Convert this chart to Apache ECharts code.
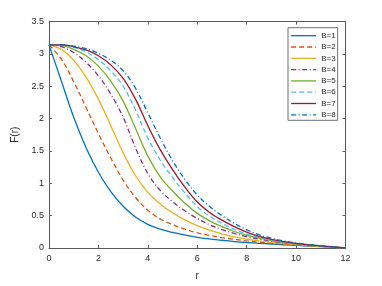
<!DOCTYPE html>
<html>
<head>
<meta charset="utf-8">
<script src="https://cdn.jsdelivr.net/npm/echarts@6/dist/echarts.min.js"></script>
<style>
html,body{margin:0;padding:0;background:#fff;}
#c{width:382px;height:286px;}
</style>
</head>
<body>
<div id="c"></div>
<script>
// radial coordinate samples
const rValues = [0,0.5,1,1.5,2,2.5,3,3.5,4,4.5,5,5.5,6,6.5,7,7.5,8,8.5,9,9.5,10,11,12];
// F(r) for each B
const B1 = [3.14,2.58,2.02,1.55,1.17,0.87,0.645,0.48,0.365,0.29,0.24,0.20,0.165,0.14,0.12,0.10,0.085,0.073,0.062,0.05,0.04,0.02,0];
const B2 = [3.14,2.92,2.57,2.17,1.77,1.39,1.05,0.78,0.585,0.45,0.36,0.29,0.235,0.195,0.16,0.135,0.11,0.092,0.075,0.06,0.047,0.023,0];
const B3 = [3.14,3.07,2.90,2.64,2.30,1.89,1.47,1.12,0.86,0.68,0.545,0.435,0.345,0.275,0.22,0.175,0.135,0.11,0.088,0.068,0.052,0.025,0];
const B4 = [3.14,3.11,3.02,2.87,2.66,2.38,2.02,1.55,1.15,0.89,0.715,0.575,0.455,0.36,0.285,0.225,0.175,0.137,0.105,0.08,0.058,0.028,0];
const B5 = [3.14,3.13,3.07,2.97,2.81,2.58,2.27,1.85,1.42,1.10,0.88,0.69,0.535,0.42,0.33,0.255,0.195,0.152,0.115,0.086,0.062,0.03,0];
const B6 = [3.14,3.14,3.10,3.03,2.91,2.74,2.50,2.13,1.70,1.36,1.09,0.85,0.64,0.49,0.38,0.29,0.215,0.165,0.125,0.093,0.067,0.032,0];
const B7 = [3.14,3.14,3.11,3.06,2.97,2.83,2.62,2.30,1.89,1.52,1.21,0.94,0.71,0.55,0.43,0.33,0.245,0.18,0.135,0.10,0.072,0.034,0];
const B8 = [3.14,3.14,3.12,3.08,3.01,2.90,2.74,2.47,2.09,1.70,1.35,1.06,0.82,0.64,0.50,0.38,0.28,0.205,0.15,0.11,0.078,0.036,0];
const seriesNames = ['B=1','B=2','B=3','B=4','B=5','B=6','B=7','B=8'];
const xTicks = [0,2,4,6,8,10,12];
const yTicks = [0,0.5,1,1.5,2,2.5,3,3.5];

const allData = [B1,B2,B3,B4,B5,B6,B7,B8];
const colors = ['#0072BD','#D95319','#EDB120','#7E2F8E','#77AC30','#4DBEEE','#A2142F','#0072BD'];
const dashes = ['solid',[5,3],'solid',[5,2.5,1,2.5],'solid',[5,3],'solid',[5,2.5,1,2.5]];

const chart = echarts.init(document.getElementById('c'), null, {renderer:'canvas'});
const axisColor = '#5a5a5a';
const labelColor = '#262626';
const fontFam = 'Liberation Sans, Arial, sans-serif';

const series = allData.map((vals, i) => ({
  name: seriesNames[i],
  type: 'line',
  data: rValues.map((r, j) => [r, vals[j]]),
  smooth: 0.35,
  symbol: 'none',
  lineStyle: {color: colors[i], width: 1.3, type: dashes[i]},
  itemStyle: {color: colors[i]},
  z: 2 + i
}));

chart.setOption({
  animation: false,
  backgroundColor: '#fff',
  grid: {left: 49, right: 36.5, top: 21.5, bottom: 31.5, containLabel: false},
  legend: {
    orient: 'vertical',
    left: 288, top: 27.7,
    data: seriesNames,
    itemWidth: 25, itemHeight: 9, itemGap: 3.3,
    padding: [4, 2, 1.5, 2.5],
    borderColor: '#4d4d4d', borderWidth: 0.8,
    backgroundColor: '#fff',
    itemStyle: {opacity: 0, color: 'rgba(0,0,0,0)', borderWidth: 0},
    lineStyle: {width: 1.3},
    textStyle: {fontSize: 8, color: labelColor, fontFamily: fontFam, width: 14, overflow: 'none'}
  },
  xAxis: [{
    type: 'value', min: 0, max: 12, interval: 2,
    name: 'r', nameLocation: 'middle', nameGap: 23,
    nameTextStyle: {fontSize: 10, color: labelColor, fontFamily: fontFam},
    axisLine: {show: true, onZero: false, lineStyle: {color: axisColor, width: 1}},
    axisTick: {show: true, inside: true, length: 3, lineStyle: {color: axisColor}},
    axisLabel: {show: true, margin: 6, fontSize: 9, color: labelColor, fontFamily: fontFam,
      formatter: v => xTicks.includes(v) ? String(v) : ''},
    splitLine: {show: false}
  },{
    type: 'value', min: 0, max: 12, interval: 2, position: 'top',
    axisLine: {show: true, onZero: false, lineStyle: {color: axisColor, width: 1}},
    axisTick: {show: true, inside: true, length: 3, lineStyle: {color: axisColor}},
    axisLabel: {show: false}, splitLine: {show: false}
  }],
  yAxis: [{
    type: 'value', min: 0, max: 3.5, interval: 0.5,
    name: 'F(r)', nameLocation: 'middle', nameGap: 27,
    nameTextStyle: {fontSize: 10, color: labelColor, fontFamily: fontFam},
    axisLine: {show: true, onZero: false, lineStyle: {color: axisColor, width: 1}},
    axisTick: {show: true, inside: true, length: 3, lineStyle: {color: axisColor}},
    axisLabel: {show: true, margin: 5, fontSize: 9, color: labelColor, fontFamily: fontFam,
      formatter: v => yTicks.includes(v) ? String(v) : ''},
    splitLine: {show: false}
  },{
    type: 'value', min: 0, max: 3.5, interval: 0.5, position: 'right',
    axisLine: {show: true, onZero: false, lineStyle: {color: axisColor, width: 1}},
    axisTick: {show: true, inside: true, length: 3, lineStyle: {color: axisColor}},
    axisLabel: {show: false}, splitLine: {show: false}
  }],
  series: series
});
</script>
</body>
</html>
